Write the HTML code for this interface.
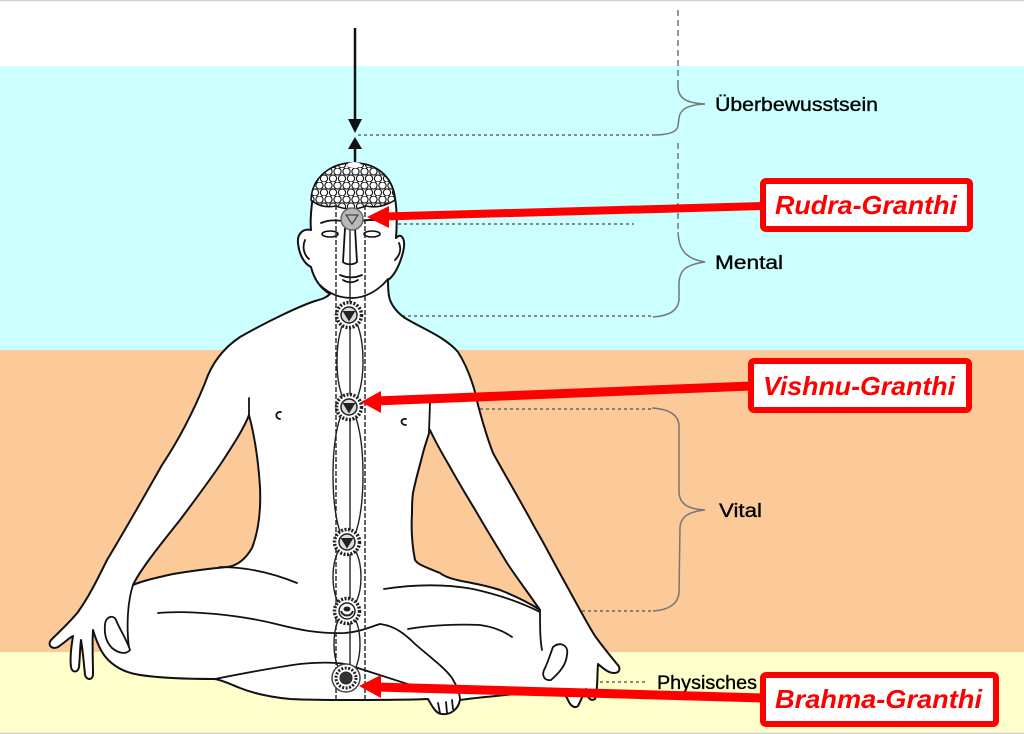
<!DOCTYPE html>
<html><head><meta charset="utf-8"><style>
html,body{margin:0;padding:0;background:#fff;}
svg{display:block;}
</style></head><body>
<svg width="1024" height="734" viewBox="0 0 1024 734" xmlns="http://www.w3.org/2000/svg">
<defs>
<pattern id="hair" width="9" height="14" patternUnits="userSpaceOnUse">
<rect width="9" height="14" fill="#fff"/>
<circle cx="4.5" cy="3.5" r="3.6" fill="#fff" stroke="#111" stroke-width="1.1"/>
<circle cx="0" cy="10.5" r="3.6" fill="#fff" stroke="#111" stroke-width="1.1"/>
<circle cx="9" cy="10.5" r="3.6" fill="#fff" stroke="#111" stroke-width="1.1"/>
</pattern>
</defs>
<!-- bands -->
<rect x="0" y="0" width="1024" height="66" fill="#ffffff"/>
<rect x="0" y="66" width="1024" height="284" fill="#ccffff"/>
<rect x="0" y="350" width="1024" height="302" fill="#fcc999"/>
<rect x="0" y="652" width="1024" height="82" fill="#ffffcc"/>
<line x1="0" y1="0.5" x2="1024" y2="0.5" stroke="#cfcfcf" stroke-width="1.5"/>
<line x1="0" y1="733.5" x2="1024" y2="733.5" stroke="#cfcfcf" stroke-width="1.5"/>

<!-- dashed level lines -->
<g stroke="#666" stroke-width="1.5" stroke-dasharray="3 3" fill="none">
<line x1="358" y1="135" x2="653" y2="135"/>
<line x1="368" y1="224" x2="634" y2="224"/>
<line x1="366" y1="316" x2="653" y2="316"/>
<line x1="366" y1="409" x2="653" y2="409"/>
<line x1="366" y1="611" x2="653" y2="611"/>
<line x1="366" y1="682" x2="648" y2="682"/>
</g>

<!-- braces -->
<g stroke="#777" stroke-width="1.5" fill="none">
<line x1="678" y1="10" x2="678" y2="86" stroke-dasharray="6 4"/>
<path d="M678,86 C678,97 684,103 705,104 C686,105 680,110 679,118 L678,126 C677,132 668,135 653,135"/>
<line x1="678" y1="143" x2="678" y2="232" stroke-dasharray="6 4"/>
<path d="M678,232 C679,245 681,258 705,262 C683,265 680,272 679,282 L679,300 C678,310 670,316 653,317"/>
<path d="M652,408 C668,409 678,414 679,425 L679,493 C680,503 686,509 705,510 C686,512 681,518 680,527 L679,593 C678,603 670,610 653,611"/>
</g>

<!-- labels -->
<g font-family="'Liberation Sans', sans-serif" fill="#000" stroke="#000" stroke-width="0.35" font-size="19">
<text x="715" y="111" textLength="163" lengthAdjust="spacingAndGlyphs">Überbewusstsein</text>
<text x="715" y="269" textLength="68" lengthAdjust="spacingAndGlyphs">Mental</text>
<text x="719" y="517" textLength="43" lengthAdjust="spacingAndGlyphs">Vital</text>
<text x="657" y="689" textLength="100" lengthAdjust="spacingAndGlyphs">Physisches</text>
</g>

<!-- top arrows -->
<line x1="355" y1="28" x2="355" y2="122" stroke="#111" stroke-width="2.5"/>
<polygon points="348,119 362,119 355,133" fill="#111"/>
<polygon points="348,149 362,149 355,137" fill="#111"/>
<line x1="355" y1="148" x2="355" y2="164" stroke="#111" stroke-width="2.5"/>

<!-- body silhouette -->
<path d="M353,163 C333,163 315,175 313,195 C311,210 310,222 311,230 C303,228 297,234 298,243 C299,253 303,263 311,267 C314,279 320,288 330,294 C326,298 322,299 315,301 C300,306 270,320 240,337 C225,347 212,362 205,383 C196,405 182,435 162,465 C145,495 125,530 107,560 C98,578 90,595 78,612 C70,622 58,633 51,640 C47,645 52,650 58,647 C64,643 69,638 73,636 C71,648 70,660 71,667 C72,673 78,673 79,667 C80,657 80,647 81,640 C83,652 84,665 85,675 C87,681 93,680 93,674 C93,660 92,645 93,630 C96,640 99,648 104,655 C110,663 120,672 140,675 C160,678 190,679 215,679 C225,681 232,685 240,688 C255,694 270,697 290,699 C310,700 330,700 350,700 C380,700 405,700 428,699 C432,706 436,714 442,714 C450,715 458,710 460,700 C480,697 520,694 553,690 C560,690 566,695 568,700 C570,705 574,709 578,706 C581,700 584,693 586,689 C587,697 590,702 595,699 C598,690 597,675 598,664 C603,668 608,673 614,673 C620,673 621,668 617,664 C612,658 603,647 595,636 C588,625 580,610 568,588 C555,565 545,545 535,528 C520,500 505,475 493,453 C486,435 482,420 478,405 C474,385 468,368 458,352 C445,337 425,330 405,318 C396,312 390,303 389,296 C388,290 388,285 388,280 C394,276 399,266 402,256 C405,246 405,239 401,236 C399,235 397,237 396,238 C397,225 397,210 395,198 C392,175 375,163 353,163 Z" fill="#fff" stroke="#111" stroke-width="2" stroke-linejoin="round"/>

<!-- gaps between arms and torso -->
<path d="M133,585 C140,570 160,545 180,520 C195,500 210,480 222,462 C235,442 244,428 249,415 C253,430 258,455 260,487 C261,510 259,530 252,548 C245,560 236,566 227,567 C205,569 185,572 173,574 C155,578 142,581 133,585 Z" fill="#fcc999" stroke="#111" stroke-width="2" stroke-linejoin="round"/>
<path d="M430,430 C437,445 443,455 450,467 C460,485 468,498 477,513 C488,532 498,548 507,563 C517,578 526,590 533,600 L540,610 C528,602 515,596 500,590 C488,586 477,584 467,582 C455,580 445,577 440,573 C428,568 418,565 415,560 C412,545 411,530 412,513 C412,505 412,500 413,493 C416,478 420,465 423,453 C425,445 428,437 430,430 Z" fill="#fcc999" stroke="#111" stroke-width="2" stroke-linejoin="round"/>

<!-- inner body lines -->
<g fill="none" stroke="#111" stroke-width="1.8" stroke-linecap="round">
<path d="M249,398 L249,418"/>
<path d="M430,403 L429,432"/>
<path d="M133,585 C128,600 126,625 129,648"/>
<path d="M220,567 C245,567 270,572 297,583"/>
<path d="M158,613 C190,610 240,615 276,624 C300,630 320,634 345,633 C360,632 370,627 380,624"/>
<path d="M380,624 C395,626 405,634 415,644 C430,657 445,668 452,678 C458,688 460,695 460,700"/>
<path d="M215,679 C235,675 270,668 300,664 C320,662 333,662 345,664 C365,670 400,682 433,692"/>
<path d="M384,589 C410,585 440,583 473,589 C500,595 520,602 540,612"/>
<path d="M408,629 C430,625 460,624 480,625 C495,627 505,632 512,637"/>
<path d="M540,610 C540,625 540,640 542,650"/>
<path d="M320,285 C330,295 342,298 352,298 C365,298 378,291 388,279"/>
<path d="M305,240 C302,247 304,255 309,259"/>
<path d="M399,243 C402,250 399,256 395,260"/>
<path d="M321,223 C328,220 336,220 342,221"/>
<path d="M362,221 C370,219 380,220 388,223"/>
<path d="M345,228 L343,262 C346,265 354,265 357,262 L355,228"/>
<path d="M340,275 C347,278 355,278 362,275"/>
<path d="M343,280 C348,283 353,283 358,280"/>
<path d="M281,412 C276,411 274,418 280,419"/>
<path d="M406,419 C400,418 400,425 406,425"/>
<path d="M440,713 L438,703 M447,713 L446,702 M453,709 L452,700"/>
</g>
<!-- thumb loops -->
<path d="M105,625 C105,617 113,614 116,620 C120,630 127,640 130,650 C126,655 118,653 112,648 C107,643 104,635 105,625 Z" fill="#fff" stroke="#111" stroke-width="1.8"/>
<path d="M553,647 C560,641 569,645 567,655 C566,665 560,672 551,680 C544,681 541,675 545,668 C548,662 550,655 553,647 Z" fill="#fff" stroke="#111" stroke-width="1.8"/>
<ellipse cx="330" cy="234" rx="8" ry="3" fill="#fff" stroke="#111" stroke-width="1.6"/>
<ellipse cx="372" cy="234" rx="8" ry="3" fill="#fff" stroke="#111" stroke-width="1.6"/>

<!-- hair -->
<path d="M311,200 C312,176 332,163 353,163 C376,163 393,176 395,200 C386,206 376,208 366,206 C356,210 346,210 336,206 C326,208 318,206 311,200 Z" fill="url(#hair)" stroke="#111" stroke-width="1.6"/>
<ellipse cx="354" cy="165" rx="7" ry="3" fill="#fff"/>

<!-- spine column -->
<g fill="none" stroke="#222" stroke-width="1.4">
<line x1="336" y1="205" x2="336" y2="700" stroke-dasharray="5 2"/>
<line x1="365" y1="205" x2="365" y2="700" stroke-dasharray="5 2"/>
<line x1="350" y1="208" x2="350" y2="690"/>
<ellipse cx="350" cy="361" rx="13" ry="44"/>
<ellipse cx="348" cy="475" rx="15" ry="67"/>
<ellipse cx="347" cy="577" rx="14" ry="33"/>
<ellipse cx="347" cy="644" rx="13" ry="32"/>
</g>
<circle cx="352" cy="219" r="11" fill="#b8b8b8" stroke="#666" stroke-width="1.5"/>
<path d="M346,215 L358,215 L352,224 Z" fill="none" stroke="#444" stroke-width="1.2"/>

<g stroke="#222" fill="#fff">
<g transform="translate(349,315)"><circle r="12.5" stroke-width="3.5" stroke-dasharray="2 1.5"/><circle r="8" stroke-width="1.5" fill="#ddd"/><path d="M-5.5,-3.5 L5.5,-3.5 L0,5.5 Z" fill="#222" stroke-width="1"/></g>
<g transform="translate(349,407)"><circle r="12.5" stroke-width="3.5" stroke-dasharray="2 1.5"/><circle r="8" stroke-width="1.5" fill="#ddd"/><path d="M-5.5,-3.5 L5.5,-3.5 L0,5.5 Z" fill="#222" stroke-width="1"/></g>
<g transform="translate(347,542)"><circle r="12.5" stroke-width="3.5" stroke-dasharray="2 1.5"/><circle r="8" stroke-width="1.5" fill="#ddd"/><path d="M-5.5,-3.5 L5.5,-3.5 L0,5.5 Z" fill="#222" stroke-width="1"/></g>
<g transform="translate(347,611)"><circle r="12.5" stroke-width="3.5" stroke-dasharray="2 1.5"/><circle r="8" stroke-width="1.5"/><path d="M-6,0 C-4,6 4,6 6,0" fill="none" stroke-width="2"/><ellipse cx="0" cy="-2" rx="3" ry="2" fill="#222"/></g>
<g transform="translate(346,678)"><circle r="14" stroke="#444" stroke-width="1.5"/><circle r="10" stroke-width="3" stroke-dasharray="2 1.5"/><circle r="6" fill="#333" stroke-width="1"/></g>
</g>

<!-- red arrows -->
<g fill="#ff0000" stroke="#ff0000">
<line x1="764" y1="206" x2="384" y2="216.5" stroke-width="8"/>
<polygon points="367,217 389,206 389,228" stroke="none"/>
<line x1="752" y1="386" x2="376" y2="401" stroke-width="9"/>
<polygon points="361,402 381,391 381,413" stroke="none"/>
<line x1="764" y1="698" x2="376" y2="687" stroke-width="9"/>
<polygon points="359,686 381,675 381,698" stroke="none"/>
</g>

<!-- red boxes -->
<g fill="#fff" stroke="#ff0000" stroke-width="6">
<rect x="763" y="181" width="207" height="48" rx="3"/>
<rect x="751" y="361" width="218" height="49" rx="3"/>
<rect x="763" y="675" width="233" height="49" rx="3"/>
</g>
<g font-family="'Liberation Sans', sans-serif" font-weight="bold" font-style="italic" font-size="26" fill="#ff0000">
<text x="775" y="214" textLength="182" lengthAdjust="spacingAndGlyphs">Rudra-Granthi</text>
<text x="763" y="395" textLength="192" lengthAdjust="spacingAndGlyphs">Vishnu-Granthi</text>
<text x="775" y="708" textLength="207" lengthAdjust="spacingAndGlyphs">Brahma-Granthi</text>
</g>
</svg>
</body></html>
